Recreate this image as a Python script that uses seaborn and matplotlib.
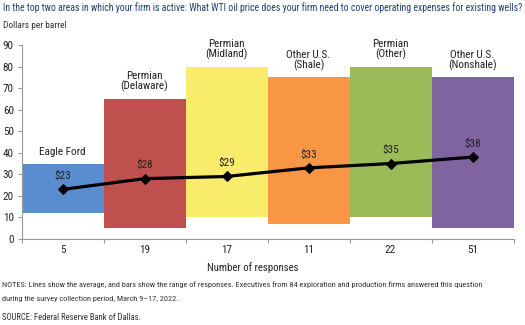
import matplotlib
matplotlib.use("Agg")
import matplotlib.pyplot as plt
from matplotlib.ticker import FixedLocator
import seaborn as sns
import pandas as pd

# Survey data: breakeven WTI price to cover operating expenses for existing wells
regions = ["Eagle Ford", "Permian\n(Delaware)", "Permian\n(Midland)",
           "Other U.S.\n(Shale)", "Permian\n(Other)", "Other U.S.\n(Nonshale)"]
responses = ["5", "19", "17", "11", "22", "51"]
range_low = [12, 5, 10, 7, 10, 5]
range_high = [35, 65, 80, 75, 80, 75]
average = [23, 28, 29, 33, 35, 38]
bar_colors = ["#5a8dcf", "#c0504d", "#f9ec6b", "#f89646", "#9bbb59", "#8064a2"]

sns.set_theme(style="white")
plt.rcParams["font.family"] = ["Roboto Condensed", "Barlow Semi Condensed",
                               "Fira Sans Condensed", "Archivo Narrow",
                               "PT Sans Narrow", "DejaVu Sans"]

df = pd.DataFrame({
    "pos": list(range(len(regions))),
    "region": regions,
    "low": range_low,
    "span": [h - l for h, l in zip(range_high, range_low)],
    "avg": average,
})

W, H = 525, 325
fig = plt.figure(figsize=(W / 100, H / 100), dpi=100)
ax = fig.add_axes([21.5 / W, 1 - 239 / H, 492 / W, 194 / H])

# Range bars, each spanning from the lowest to the highest response
sns.barplot(data=df, x="region", y="span", order=regions, width=1.0,
            color="#888888", saturation=1, errorbar=None,
            bottom=df["low"].values, linewidth=0, ax=ax, zorder=1)
for patch, c in zip(ax.patches, bar_colors):
    patch.set_facecolor(c)
    patch.set_edgecolor(c)

# Average line
sns.lineplot(data=df, x="pos", y="avg", color="black", linewidth=2.3,
             marker="D", markersize=5, markeredgecolor="black", ax=ax, zorder=3)

for i, (v, top, name) in enumerate(zip(average, range_high, regions)):
    ax.text(i, v + 6.2, f"${v}", ha="center", va="center", fontsize=8, color="#222222")
    ax.text(i, top + 3, name, ha="center", va="bottom", fontsize=8,
            color="#222222", linespacing=0.98)

ax.set_xlim(-0.5, len(regions) - 0.5)
ax.set_ylim(0, 90)
ax.set_yticks(range(0, 91, 10))
ax.tick_params(axis="y", labelsize=8, labelcolor="#222222", length=3,
               width=0.8, color="#999999", direction="out", left=True, pad=2.5)

# Boundary ticks between categories, labels centred on categories
ax.xaxis.set_major_locator(FixedLocator([i - 0.5 for i in range(len(regions) + 1)]))
ax.set_xticklabels([])
ax.xaxis.set_minor_locator(FixedLocator(list(range(len(regions)))))
ax.set_xticklabels(responses, minor=True)
ax.tick_params(axis="x", which="major", length=3, width=0.8, color="#999999",
               direction="out", bottom=True)
ax.tick_params(axis="x", which="minor", length=0, labelsize=8,
               labelcolor="#222222", pad=4.5)
ax.set_xlabel("")
ax.set_ylabel("")

for side in ["top", "right"]:
    ax.spines[side].set_visible(False)
for side in ["left", "bottom"]:
    ax.spines[side].set_color("#999999")
    ax.spines[side].set_linewidth(0.8)

xlabel = fig.text(253 / W, 1 - 268 / H, "Number of responses", ha="center",
                  va="center", fontsize=9, color="#222222")
title = fig.text(3 / W, 1 - 8 / H,
                 "In the top two areas in which your firm is active: What WTI oil price does "
                 "your firm need to cover operating expenses for existing wells?",
                 ha="left", va="center", fontsize=9, color="#1f3f74")
unit = fig.text(3 / W, 1 - 26 / H, "Dollars per barrel", ha="left", va="center",
                fontsize=7, color="#333333")
notes1 = fig.text(2 / W, 1 - 285 / H,
                  "NOTES: Lines show the average, and bars show the range of responses. "
                  "Executives from 84 exploration and production firms answered this question",
                  ha="left", va="center", fontsize=7, color="#333333")
notes2 = fig.text(2 / W, 1 - 299 / H,
                  "during the survey collection period, March 9\u201317, 2022.",
                  ha="left", va="center", fontsize=7, color="#333333")
source = fig.text(2 / W, 1 - 318 / H, "SOURCE: Federal Reserve Bank of Dallas.",
                  ha="left", va="center", fontsize=7, color="#333333")


def fit_width(text, target_px):
    """Scale a text's font size so that it spans target_px pixels."""
    renderer = fig.canvas.get_renderer()
    width = text.get_window_extent(renderer).width
    text.set_fontsize(text.get_fontsize() * target_px / width)
    return text.get_fontsize()


fig.canvas.draw()
fit_width(title, 517)
note_size = fit_width(notes1, 487)
notes2.set_fontsize(note_size)
source.set_fontsize(note_size * 1.05)
fit_width(unit, 64)
fit_width(xlabel, 92)

fig.savefig("out.png", dpi=100)
